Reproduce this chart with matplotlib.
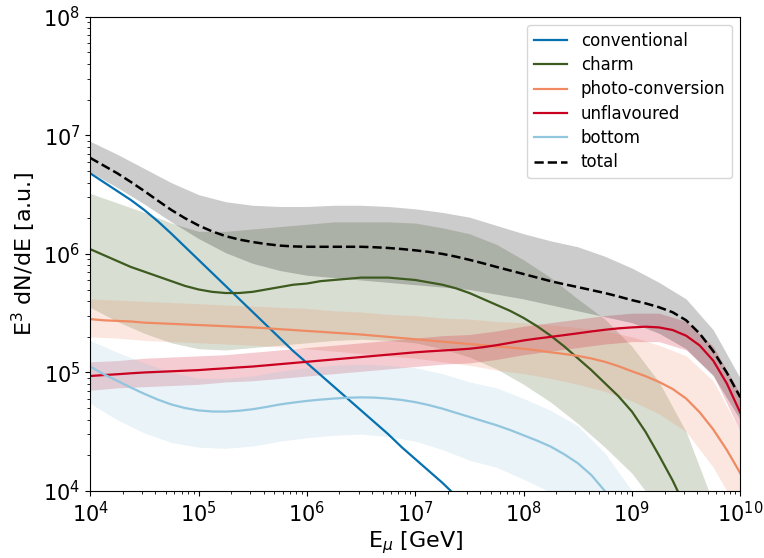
import numpy as np
import matplotlib
matplotlib.use("Agg")
import matplotlib.pyplot as plt

# --- data ---
# log10(E / GeV) for the central lines (fine steps) and for the bands (coarse steps)
e_log_line = [4.0, 4.125, 4.25, 4.375, 4.5, 4.625, 4.75, 4.875, 5.0, 5.125, 5.25, 5.375,
              5.5, 5.625, 5.75, 5.875, 6.0, 6.125, 6.25, 6.375, 6.5, 6.625, 6.75, 6.875,
              7.0, 7.125, 7.25, 7.375, 7.5, 7.625, 7.75, 7.875, 8.0, 8.125, 8.25, 8.375,
              8.5, 8.625, 8.75, 8.875, 9.0, 9.125, 9.25, 9.375, 9.5, 9.625, 9.75, 9.875, 10.0]
e_log_band = [4.0, 4.25, 4.5, 4.75, 5.0, 5.25, 5.5, 5.75, 6.0, 6.25, 6.5, 6.75, 7.0,
              7.25, 7.5, 7.75, 8.0, 8.25, 8.5, 8.75, 9.0, 9.25, 9.5, 9.75, 10.0]

# log10(E^3 dN/dE) of the central lines
conventional = [6.68, 6.605, 6.53, 6.455, 6.37, 6.275, 6.17, 6.06, 5.95, 5.84, 5.73, 5.62,
                5.51, 5.40, 5.29, 5.18, 5.08, 4.98, 4.88, 4.78, 4.68, 4.58, 4.48, 4.37,
                4.27, 4.17, 4.07, 3.96, 3.86, 3.76, 3.66, 3.55, 3.45, 3.35, 3.25, 3.15,
                3.05, 2.95, 2.85, 2.75, 2.65, 2.55, 2.45, 2.35, 2.25, 2.15, 2.05, 1.95, 1.85]
charm = [6.04, 5.99, 5.94, 5.89, 5.85, 5.81, 5.77, 5.73, 5.70, 5.68, 5.67, 5.67,
         5.68, 5.70, 5.72, 5.74, 5.75, 5.77, 5.78, 5.79, 5.80, 5.80, 5.80, 5.79,
         5.78, 5.76, 5.74, 5.71, 5.67, 5.62, 5.57, 5.52, 5.46, 5.39, 5.31, 5.22,
         5.12, 5.02, 4.91, 4.80, 4.67, 4.50, 4.30, 4.09, 3.85, 3.58, 3.30, 3.00, 2.70]
photo = [5.45, 5.44, 5.435, 5.43, 5.42, 5.415, 5.41, 5.405, 5.40, 5.395, 5.39, 5.385,
         5.38, 5.373, 5.365, 5.358, 5.35, 5.343, 5.335, 5.328, 5.32, 5.31, 5.30, 5.29,
         5.28, 5.27, 5.26, 5.25, 5.24, 5.23, 5.22, 5.21, 5.20, 5.186, 5.17, 5.156,
         5.14, 5.118, 5.09, 5.053, 5.01, 4.969, 4.92, 4.861, 4.78, 4.664, 4.52, 4.347, 4.15]
unflav = [4.97, 4.978, 4.985, 4.993, 5.00, 5.005, 5.01, 5.015, 5.02, 5.028, 5.035, 5.043,
          5.05, 5.06, 5.07, 5.08, 5.09, 5.10, 5.11, 5.12, 5.13, 5.14, 5.15, 5.16,
          5.17, 5.178, 5.185, 5.192, 5.20, 5.213, 5.23, 5.25, 5.27, 5.286, 5.30, 5.315,
          5.33, 5.346, 5.36, 5.372, 5.38, 5.386, 5.38, 5.358, 5.31, 5.228, 5.10, 4.908, 4.66]
bottom = [5.05, 4.985, 4.93, 4.873, 4.82, 4.771, 4.73, 4.70, 4.68, 4.671, 4.67, 4.677,
          4.69, 4.709, 4.73, 4.746, 4.76, 4.771, 4.78, 4.787, 4.79, 4.788, 4.78, 4.768,
          4.75, 4.725, 4.695, 4.66, 4.625, 4.59, 4.555, 4.515, 4.47, 4.425, 4.375, 4.31,
          4.235, 4.135, 4.00, 3.84, 3.66, 3.48, 3.30, 3.10, 2.90, 2.65, 2.40, 2.15, 1.90]
total = [6.81, 6.745, 6.68, 6.607, 6.53, 6.449, 6.37, 6.301, 6.24, 6.19, 6.15, 6.121,
         6.10, 6.083, 6.07, 6.063, 6.06, 6.06, 6.06, 6.06, 6.06, 6.056, 6.05, 6.041,
         6.03, 6.017, 6.00, 5.977, 5.95, 5.921, 5.89, 5.86, 5.83, 5.80, 5.77, 5.744,
         5.72, 5.695, 5.67, 5.641, 5.61, 5.583, 5.55, 5.508, 5.44, 5.328, 5.18, 4.999, 4.79]

# log10 of the uncertainty bands (upper / lower edges)
charm_hi = [6.51, 6.43, 6.35, 6.26, 6.19, 6.19, 6.21, 6.23, 6.25, 6.27, 6.27, 6.27, 6.26,
            6.22, 6.17, 6.08, 5.95, 5.80, 5.62, 5.45, 5.22, 4.92, 4.50, 3.90, 3.30]
charm_lo = [5.55, 5.43, 5.33, 5.25, 5.20, 5.19, 5.21, 5.23, 5.25, 5.27, 5.28, 5.27, 5.25,
            5.20, 5.13, 5.03, 4.90, 4.75, 4.57, 4.37, 4.15, 3.85, 3.40, 2.90, 2.30]
photo_hi = [5.62, 5.61, 5.60, 5.59, 5.58, 5.57, 5.56, 5.55, 5.54, 5.52, 5.51, 5.49, 5.48,
            5.46, 5.45, 5.43, 5.42, 5.40, 5.38, 5.35, 5.30, 5.23, 5.14, 4.93, 4.50]
photo_lo = [5.30, 5.29, 5.27, 5.26, 5.25, 5.24, 5.23, 5.215, 5.20, 5.18, 5.16, 5.14, 5.12,
            5.09, 5.06, 5.02, 4.99, 4.95, 4.90, 4.84, 4.76, 4.65, 4.50, 4.20, 3.80]
unflav_hi = [5.09, 5.10, 5.12, 5.13, 5.14, 5.15, 5.17, 5.19, 5.21, 5.23, 5.25, 5.27, 5.29,
             5.31, 5.32, 5.35, 5.39, 5.42, 5.45, 5.48, 5.50, 5.50, 5.43, 5.22, 4.82]
unflav_lo = [4.85, 4.87, 4.88, 4.89, 4.90, 4.92, 4.93, 4.95, 4.97, 4.99, 5.01, 5.03, 5.05,
             5.07, 5.08, 5.11, 5.15, 5.18, 5.21, 5.24, 5.26, 5.26, 5.19, 4.98, 4.50]
bottom_hi = [5.27, 5.17, 5.08, 5.00, 4.95, 4.95, 4.97, 5.01, 5.04, 5.06, 5.07, 5.06, 5.04,
             4.99, 4.92, 4.87, 4.78, 4.68, 4.55, 4.32, 4.00, 3.65, 3.25, 2.75, 2.20]
bottom_lo = [4.74, 4.60, 4.49, 4.41, 4.37, 4.36, 4.38, 4.42, 4.45, 4.47, 4.48, 4.46, 4.42,
             4.35, 4.26, 4.20, 4.10, 3.99, 3.85, 3.60, 3.30, 2.95, 2.55, 2.05, 1.50]
total_hi = [6.95, 6.84, 6.72, 6.60, 6.50, 6.44, 6.41, 6.40, 6.40, 6.41, 6.41, 6.40, 6.38,
            6.35, 6.31, 6.24, 6.17, 6.11, 6.06, 5.98, 5.88, 5.76, 5.62, 5.36, 4.95]
total_lo = [6.69, 6.56, 6.42, 6.27, 6.13, 6.01, 5.92, 5.86, 5.82, 5.80, 5.78, 5.76, 5.74,
            5.72, 5.70, 5.66, 5.62, 5.57, 5.52, 5.47, 5.42, 5.33, 5.20, 4.97, 4.60]

E_line = 10 ** np.array(e_log_line)
E_band = 10 ** np.array(e_log_band)


def lin(v):
    return 10 ** np.array(v)


fig = plt.figure(figsize=(7.64, 5.58), dpi=100)
ax = fig.add_axes([0.118, 0.120, 0.851, 0.850])

c_conv = "#0571b0"
c_charm = "#3d5a1f"
c_photo = "#ef8a62"
c_unfl = "#ca0020"
c_bott = "#92c5de"

# bands
ax.fill_between(E_band, lin(charm_lo), lin(charm_hi), color=c_charm, alpha=0.2, lw=0)
ax.fill_between(E_band, lin(photo_lo), lin(photo_hi), color=c_photo, alpha=0.2, lw=0)
ax.fill_between(E_band, lin(unflav_lo), lin(unflav_hi), color=c_unfl, alpha=0.2, lw=0)
ax.fill_between(E_band, lin(bottom_lo), lin(bottom_hi), color=c_bott, alpha=0.2, lw=0)
ax.fill_between(E_band, lin(total_lo), lin(total_hi), color="black", alpha=0.2, lw=0)

# central lines
ax.plot(E_line, lin(conventional), color=c_conv, lw=1.6, label="conventional")
ax.plot(E_line, lin(charm), color=c_charm, lw=1.6, label="charm")
ax.plot(E_line, lin(photo), color=c_photo, lw=1.6, label="photo-conversion")
ax.plot(E_line, lin(unflav), color=c_unfl, lw=1.6, label="unflavoured")
ax.plot(E_line, lin(bottom), color=c_bott, lw=1.6, label="bottom")
ax.plot(E_line, lin(total), color="black", ls="--", lw=1.8, label="total")

ax.set_xscale("log")
ax.set_yscale("log")
ax.set_xlim(1e4, 1e10)
ax.set_ylim(1e4, 1e8)
ax.set_xlabel(r"E$_\mu$ [GeV]", fontsize=16, labelpad=2)
ax.set_ylabel(r"E$^3$ dN/dE [a.u.]", fontsize=16)
ax.tick_params(axis="both", which="major", labelsize=15)

ax.legend(loc="upper right", fontsize=12, labelspacing=0.38)

plt.savefig("out.png", dpi=100)
